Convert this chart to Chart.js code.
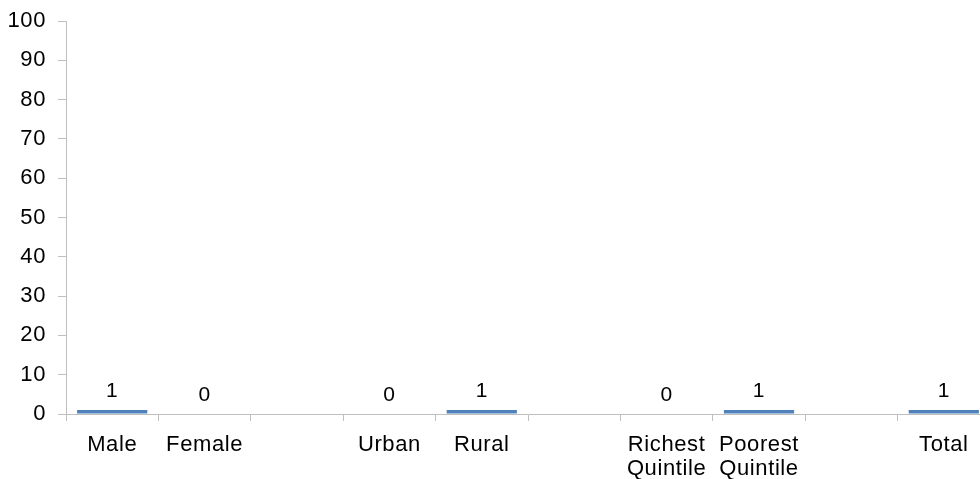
<!DOCTYPE html>
<html>
<head>
<meta charset="utf-8">
<script src="https://cdn.jsdelivr.net/npm/chart.js@4/dist/chart.umd.min.js"></script>
<style>
  html, body { margin: 0; padding: 0; background: #fff; overflow: hidden; }
  #wrap { width: 990px; height: 479px; }
</style>
</head>
<body>
<div id="wrap"><canvas id="c" width="990" height="479"></canvas></div>
<script>
// categorieen, lege plekken zijn scheidingen tussen groepen
const categories = ['Male', 'Female', '', 'Urban', 'Rural', '', ['Richest', 'Quintile'], ['Poorest', 'Quintile'], '', 'Total'];
const values = [1, 0, null, 0, 1, null, 0, 1, null, 1];
const yTicks = [0, 10, 20, 30, 40, 50, 60, 70, 80, 90, 100];

const axisGrey = '#bfbfbf';
const fontFam = '"Liberation Sans", Arial, sans-serif';

// iets meer letterafstand, zoals in het origineel
const spacing = {
  id: 'spacing',
  beforeDraw(chart) { chart.ctx.letterSpacing = '0.6px'; }
};

// waarden boven de balken
const valueLabels = {
  id: 'valueLabels',
  afterDatasetsDraw(chart) {
    const ctx = chart.ctx;
    const meta = chart.getDatasetMeta(0);
    ctx.save();
    ctx.font = '21px ' + fontFam;
    ctx.fillStyle = '#000';
    ctx.textAlign = 'center';
    ctx.textBaseline = 'alphabetic';
    meta.data.forEach((bar, i) => {
      if (values[i] === null) return;
      ctx.fillText(String(values[i]), bar.x, bar.y - 13);
    });
    ctx.restore();
  }
};

new Chart(document.getElementById('c'), {
  type: 'bar',
  data: {
    labels: categories,
    datasets: [{
      data: values,
      backgroundColor: '#4f81bd',
      barPercentage: 0.76,
      categoryPercentage: 1
    }]
  },
  options: {
    responsive: false,
    animation: false,
    layout: { padding: { top: 21, right: 0, bottom: 0, left: 0 } },
    plugins: { legend: { display: false }, tooltip: { enabled: false } },
    scales: {
      x: {
        afterFit(scale) { scale.height = 65; },
        grid: { drawOnChartArea: false, color: axisGrey, tickLength: 7, offset: true },
        border: { color: axisGrey },
        ticks: { color: '#000', font: { family: fontFam, size: 22, lineHeight: 1.1 }, maxRotation: 0, autoSkip: false, padding: 12 }
      },
      y: {
        min: 0, max: 100,
        afterBuildTicks(scale) { scale.ticks = yTicks.map(v => ({ value: v })); },
        afterFit(scale) { scale.width = 66; scale.paddingTop = 0; scale.paddingBottom = 0; },
        grid: { drawOnChartArea: false, color: axisGrey, tickLength: 8 },
        border: { color: axisGrey },
        ticks: { color: '#000', font: { family: fontFam, size: 22 }, padding: 12 }
      }
    }
  },
  plugins: [spacing, valueLabels]
});
</script>
</body>
</html>
